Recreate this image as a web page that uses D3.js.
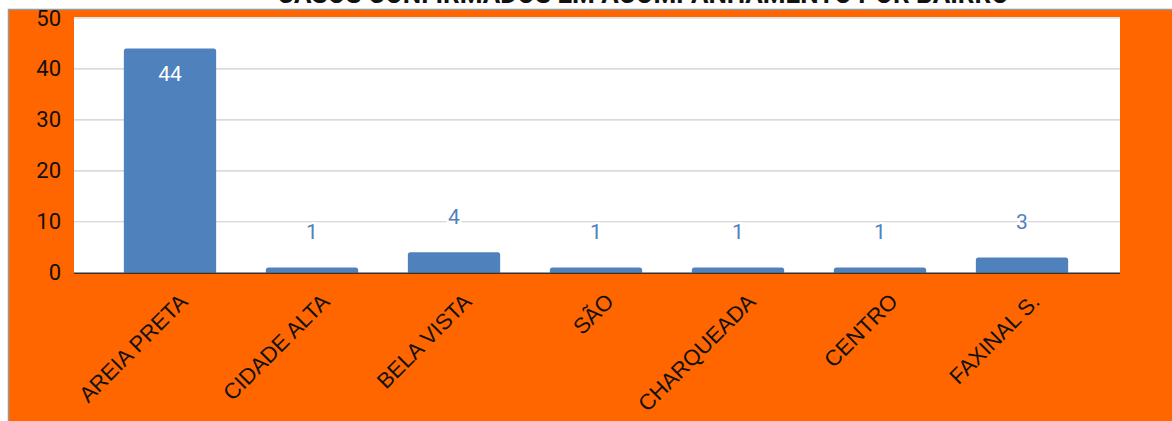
<!DOCTYPE html>
<html>
<head>
<meta charset="utf-8">
<script src="https://cdn.jsdelivr.net/npm/d3@7"></script>
<style>
  body { margin: 0; background: #fff; }
  text { font-family: Roboto, "Noto Sans", sans-serif; }
</style>
</head>
<body>
<div id="chart"></div>
<script>
  // data
  var bairros = ["AREIA PRETA", "CIDADE ALTA", "BELA VISTA", "SÃO", "CHARQUEADA", "CENTRO", "FAXINAL S."];
  var casos = [44, 1, 4, 1, 1, 1, 3];
  var yTicks = [0, 10, 20, 30, 40, 50];
  var titulo = "CASOS CONFIRMADOS EM ACOMPANHAMENTO POR BAIRRO";

  var svgWidth = 1172;
  var svgHeight = 421;

  var plot = { left: 74, right: 1120, top: 17, bottom: 273 };

  var svg = d3.select("#chart")
    .append("svg")
    .attr("width", svgWidth)
    .attr("height", svgHeight);

  // orange frame
  svg.append("rect")
    .attr("x", 8.5).attr("y", 9.5)
    .attr("width", svgWidth).attr("height", svgHeight)
    .attr("fill", "#ff6600")
    .attr("stroke", "#999").attr("stroke-width", 1.5);

  // title, cut off at the top
  svg.append("text")
    .attr("x", 643)
    .attr("y", 3)
    .attr("text-anchor", "middle")
    .attr("font-size", "26px")
    .attr("font-weight", "bold")
    .attr("fill", "#111")
    .text(titulo);

  // white plot area
  svg.append("rect")
    .attr("x", plot.left).attr("y", plot.top)
    .attr("width", plot.right - plot.left)
    .attr("height", plot.bottom - plot.top)
    .attr("fill", "#fff");

  var xScale = d3.scaleBand()
    .domain(bairros)
    .range([99, 1093])
    .paddingInner(0.35)
    .paddingOuter(0.175);

  var yScale = d3.scaleLinear()
    .domain([0, 50])
    .range([272.7, 18]);

  // gridlines
  svg.append("g")
    .selectAll("line")
    .data(yTicks.slice(1))
    .enter()
    .append("line")
    .attr("x1", plot.left).attr("x2", plot.right)
    .attr("y1", d => yScale(d)).attr("y2", d => yScale(d))
    .attr("stroke", "#ccc")
    .attr("stroke-width", 1.2);

  // y axis labels
  var leftAxis = d3.axisLeft(yScale).tickValues(yTicks).tickSize(0).tickPadding(13);
  var yAxis = svg.append("g")
    .attr("transform", `translate(${plot.left}, 0)`)
    .call(leftAxis);
  yAxis.select(".domain").remove();
  yAxis.selectAll("text")
    .attr("font-size", "22px")
    .attr("fill", "#111")
    .style("font-family", "Roboto");

  // bars with rounded top
  var r = 2.5;
  svg.append("g")
    .selectAll("path")
    .data(casos)
    .enter()
    .append("path")
    .attr("d", function(d, i) {
      var x0 = xScale(bairros[i]);
      var w = xScale.bandwidth();
      var y0 = yScale(d);
      var yb = yScale(0);
      return `M${x0},${yb} V${y0 + r} Q${x0},${y0} ${x0 + r},${y0} H${x0 + w - r} Q${x0 + w},${y0} ${x0 + w},${y0 + r} V${yb} Z`;
    })
    .attr("fill", "#4f81bd");

  // baseline
  svg.append("line")
    .attr("x1", plot.left).attr("x2", plot.right)
    .attr("y1", yScale(0) + 0.5).attr("y2", yScale(0) + 0.5)
    .attr("stroke", "#333")
    .attr("stroke-width", 1.6);

  // value labels
  svg.append("g")
    .selectAll("text")
    .data(casos)
    .enter()
    .append("text")
    .attr("x", (d, i) => xScale(bairros[i]) + xScale.bandwidth() / 2)
    .attr("y", d => d > 20 ? yScale(d) + 25 + 7.5 : yScale(d) - 36 + 7.5)
    .attr("text-anchor", "middle")
    .attr("font-size", "21px")
    .attr("fill", d => d > 20 ? "#fff" : "#4f81bd")
    .attr("stroke", d => d > 20 ? "none" : "#fff")
    .attr("stroke-width", 4)
    .attr("paint-order", "stroke")
    .text(d => d);

  // x labels rotated
  svg.append("g")
    .selectAll("text")
    .data(bairros)
    .enter()
    .append("text")
    .attr("transform", d => `translate(${xScale(d) + xScale.bandwidth() / 2 + 19}, 303) rotate(-45)`)
    .attr("text-anchor", "end")
    .attr("font-size", "22px")
    .attr("fill", "#111")
    .style("font-family", "'Liberation Sans', Arial, sans-serif")
    .text(d => d);
</script>
</body>
</html>
